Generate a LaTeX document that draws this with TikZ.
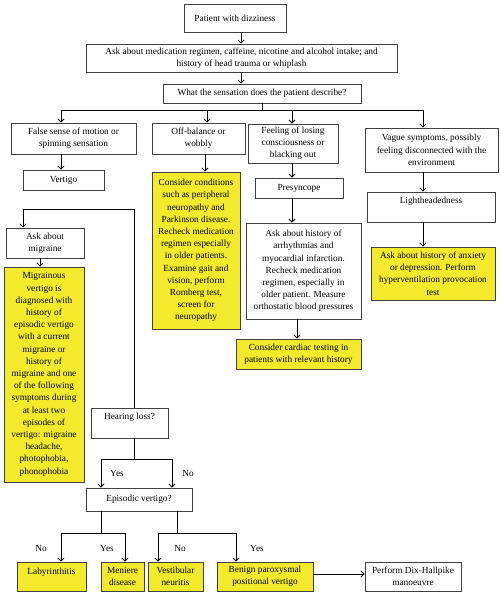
\documentclass[tikz,border=0pt]{standalone}
\usepackage{fontspec}
\setmainfont{Liberation Serif}
\usetikzlibrary{arrows.meta,positioning,calc}
\definecolor{hiyel}{HTML}{F2EA2B}
\definecolor{edgec}{HTML}{404040}
\tikzset{
  box/.style={rectangle, draw=edgec, line width=0.9pt, fill=white, align=center,
              font=\fontsize{9.3}{12.2}\selectfont, inner sep=1pt},
  ybox/.style={box, fill=hiyel},
  arr/.style={-{Straight Barb[length=3pt,width=6pt]}, line width=0.8pt},
  lnk/.style={line width=0.8pt},
  lbl/.style={font=\fontsize{9.3}{11}\selectfont, inner sep=0pt},
}

\begin{document}
\begin{tikzpicture}[x=1pt,y=-1pt]
  \useasboundingbox (0,0) rectangle (500,596);
  % top of the chart
  \node[box, minimum width=102pt, minimum height=28pt] (start) at (235,18) {Patient with dizziness};
  \node[box, minimum width=311pt, minimum height=28pt] (ask) at (241.5,58)
    {Ask about medication regimen, caffeine, nicotine and alcohol intake; and\\
     history of head trauma or whiplash};
  \node[box, minimum width=198pt, minimum height=19pt] (what) at (262,93.5)
    {What the sensation does the patient describe?};
  % four kinds of sensation
  \node[box, minimum width=125pt, minimum height=31pt] (fals) at (73.5,138.5)
    {False sense of motion or\\ spinning sensation};
  \node[box, minimum width=93pt, minimum height=31pt] (offb) at (198.5,138.5)
    {Off-balance or\\ wobbly};
  \node[box, minimum width=90pt, minimum height=39pt] (feel) at (293,143.5)
    {Feeling of losing\\ consciousness or\\ blacking out};
  \node[box, minimum width=133pt, minimum height=44pt] (vague) at (431.5,150)
    {Vague symptoms, possibly\\ feeling disconnected with the\\ environment};
  \node[box, minimum width=81pt, minimum height=20pt] (vert) at (63.5,180) {Vertigo};
  \node[ybox, minimum width=88pt, minimum height=157pt] (offy) at (196,250.5)
    {Consider conditions\\ such as peripheral\\ neuropathy and\\ Parkinson disease.\\
     Recheck medication\\ regimen especially\\ in older patients.\\ Examine gait and\\
     vision, perform\\ Romberg test,\\ screen for\\ neuropathy};
  \node[box, minimum width=88pt, minimum height=20pt] (presy) at (299,188) {Presyncope};
  \node[box, minimum width=115pt, minimum height=96pt] (arrh) at (303.5,271)
    {Ask about history of\\ arrhythmias and\\ myocardial infarction.\\ Recheck medication\\
     regimen, especially in\\ older patient. Measure\\ orthostatic blood pressures};
  \node[ybox, minimum width=125pt, minimum height=30pt] (card) at (298.5,354)
    {Consider cardiac testing in\\ patients with relevant history};
  \node[box, minimum width=128pt, minimum height=30pt, text depth=14pt] (light) at (431,207)
    {Lightheadedness};
  \node[ybox, minimum width=124pt, minimum height=53pt] (anx) at (433,273.5)
    {Ask about history of anxiety\\ or depression. Perform\\ hyperventilation provocation\\ test};
  % vertigo work-up
  \node[box, minimum width=78pt, minimum height=30pt] (askmig) at (45,243)
    {Ask about\\ migraine};
  \node[ybox, minimum width=80pt, minimum height=215pt] (migr) at (44,374.5)
    {Migrainous\\ vertigo is\\ diagnosed with\\ history of\\ episodic vertigo\\
     with a current\\ migraine or\\ history of\\ migraine and one\\ of the following\\
     symptoms during\\ at least two\\ episodes of\\ vertigo: migraine\\ headache,\\
     photophobia,\\ phonophobia};
  \node[box, minimum width=77pt, minimum height=30pt, text depth=14pt] (hear) at (129.5,423)
    {Hearing loss?};
  \node[box, minimum width=106pt, minimum height=23pt] (epi) at (139,499.5)
    {Episodic vertigo?};
  \node[ybox, minimum width=69pt, minimum height=29pt, text depth=11pt] (laby) at (51.5,576.5)
    {Labyrinthitis};
  \node[ybox, minimum width=43pt, minimum height=29pt] (meni) at (122.5,576.5)
    {Meniere\\ disease};
  \node[ybox, minimum width=55pt, minimum height=29pt] (vest) at (175.5,576.5)
    {Vestibular\\ neuritis};
  \node[ybox, minimum width=96pt, minimum height=29pt] (bppv) at (265,576.5)
    {Benign paroxysmal\\ positional vertigo};
  \node[box, minimum width=96pt, minimum height=29pt] (dix) at (413,576.5)
    {Perform Dix-Hallpike\\ manoeuvre};
  % labels
  \node[lbl] (yes1) at (117,473) {Yes};
  \node[lbl] (no1) at (188,473) {No};
  \node[lbl] (no2) at (41,548) {No};
  \node[lbl] (yes2) at (107,548) {Yes};
  \node[lbl] (no3) at (180,548) {No};
  \node[lbl] (yes3) at (257,548) {Yes};
  % split points
  \coordinate (b1) at (61,110);
  \coordinate (b4) at (424,110);
  \coordinate (lp) at (23,209);
  \coordinate (hs) at (134,459);
  \coordinate (e1) at (101,533);
  \coordinate (e2) at (177,533);
  % connectors
  \draw[arr] (241,0 |- start.south) -- (241,0 |- ask.north);
  \draw[arr] (241,0 |- ask.south) -- (241,0 |- what.north);
  \draw[lnk] (what.south) -- (what.south |- b1);
  \draw[lnk] (b1) -- (b4);
  \draw[arr] (b1) -- (b1 |- fals.north);
  \draw[arr] (207,110) -- (207,0 |- offb.north);
  \draw[arr] (292,110) -- (292,0 |- feel.north);
  \draw[arr] (423,110) -- (423,0 |- vague.north);
  \draw[arr] (61,0 |- fals.south) -- (61,0 |- vert.north);
  \draw[arr] (205,0 |- offb.south) -- (205,0 |- offy.north);
  \draw[arr] (292,0 |- feel.south) -- (292,0 |- presy.north);
  \draw[arr] (292,0 |- presy.south) -- (292,0 |- arrh.north);
  \draw[arr] (297,0 |- arrh.south) -- (297,0 |- card.north);
  \draw[arr] (423,0 |- vague.south) -- (423,0 |- light.north);
  \draw[arr] (423,0 |- light.south) -- (423,0 |- anx.north);
  \draw[arr] (lp) -- (lp |- askmig.north);
  \draw[lnk] (lp) -| (134,0 |- hear.north);
  \draw[arr] (40,0 |- askmig.south) -- (40,0 |- migr.north);
  \draw[lnk] (hs |- hear.south) -- (hs);
  \draw[lnk] (101,459) -- (172,459);
  \draw[arr] (101,459) -- (101,0 |- epi.north);
  \draw[arr] (172,459) -- (172,0 |- epi.north);
  \draw[lnk] (e1 |- epi.south) -- (e1);
  \draw[lnk] (e2 |- epi.south) -- (e2);
  \draw[lnk] (61,533) -- (125,533);
  \draw[lnk] (158,533) -- (236,533);
  \draw[arr] (61,533) -- (61,0 |- laby.north);
  \draw[arr] (125,533) -- (125,0 |- meni.north);
  \draw[arr] (158,533) -- (158,0 |- vest.north);
  \draw[arr] (236,533) -- (236,0 |- bppv.north);
  \draw[arr] (bppv.east |- 0,574) -- (dix.west |- 0,574);
\end{tikzpicture}
\end{document}
